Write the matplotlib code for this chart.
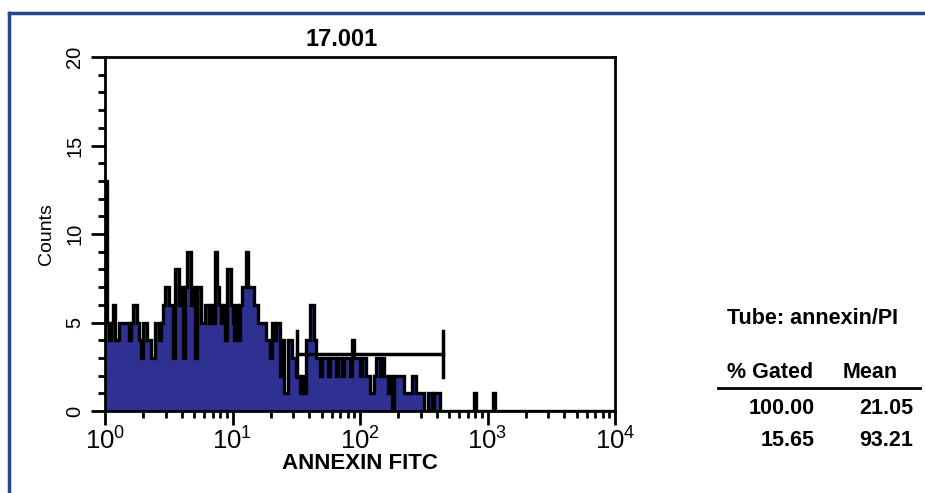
import matplotlib
matplotlib.use('Agg')
import matplotlib.pyplot as plt
import numpy as np
from matplotlib.ticker import FixedLocator, FuncFormatter

plt.rcParams['font.family'] = ['Liberation Sans', 'DejaVu Sans']
plt.rcParams['mathtext.fontset'] = 'custom'
plt.rcParams['mathtext.rm'] = 'Liberation Sans'
plt.rcParams['mathtext.it'] = 'Liberation Sans'
plt.rcParams['mathtext.bf'] = 'Liberation Sans:bold'

# 256 log channels over 4 decades, counts
counts = [
    13, 5, 4, 5, 6, 4, 4, 5, 5, 5, 5, 5, 4, 5, 6, 6, 5, 4, 3, 5,
    5, 4, 4, 3, 3, 5, 5, 4, 5, 6, 7, 7, 6, 6, 3, 8, 8, 6, 7, 3,
    7, 9, 9, 6, 7, 3, 7, 7, 5, 5, 6, 6, 5, 6, 5, 9, 7, 6, 5, 6,
    4, 8, 8, 6, 5, 4, 6, 4, 6, 7, 7, 9, 7, 7, 7, 6, 6, 5, 5, 5,
    5, 4, 4, 3, 5, 4, 5, 5, 2, 4, 1, 1, 4, 4, 3, 3, 2, 2, 1, 2,
    1, 4, 4, 6, 6, 4, 3, 3, 2, 3, 3, 3, 2, 3, 3, 3, 2, 3, 3, 2,
    3, 3, 3, 2, 4, 3, 3, 3, 2, 3, 3, 2, 2, 1, 1, 2, 3, 3, 2, 3,
    2, 2, 1, 2, 0, 2, 2, 2, 2, 2, 1, 1, 1, 1, 2, 2, 1, 1, 1, 1,
    0, 0, 1, 1, 0, 1, 1, 1, 0, 0, 0, 0, 0, 0, 0, 0, 0, 0, 0, 0,
    0, 0, 0, 0, 0, 1, 0, 0, 0, 0, 0, 0, 0, 0, 0, 1, 0, 0, 0, 0,
]
counts = counts + [0] * (256 - len(counts))
edges = 10 ** (4 * np.arange(257) / 256)

# marker gate
gate_lo = 32
gate_hi = 450
gate_y = 3.2

title = '17.001'
tube = 'Tube: annexin/PI'
table_head = ['% Gated', 'Mean']
table_rows = [['100.00', '21.05'], ['15.65', '93.21']]

fig = plt.figure(figsize=(9.25, 4.93), dpi=100)
ax = fig.add_axes([105 / 925, 1 - 411 / 493, (615 - 105) / 925, (411 - 57) / 493])

ax.stairs(counts, edges, fill=True, color='#2e3192', lw=0)
ax.stairs(counts, edges, color='black', lw=2.4, baseline=None)

ax.plot([gate_lo, gate_hi], [gate_y, gate_y], color='black', lw=2.5)
ax.plot([gate_hi, gate_hi], [gate_y - 1.3, gate_y + 1.3], color='black', lw=2.5)
ax.plot([gate_lo, gate_lo], [gate_y - 1.3, gate_y + 1.3], color='black', lw=2.5)

ax.set_xscale('log')
ax.set_xlim(1, 1e4)
ax.set_ylim(0, 20)
for s in ax.spines.values():
    s.set_linewidth(2)

ax.xaxis.set_major_locator(FixedLocator([1, 10, 100, 1000, 10000]))
ax.xaxis.set_minor_locator(FixedLocator([m * 10 ** d for d in range(4) for m in range(2, 10)]))
ax.xaxis.set_major_formatter(FuncFormatter(lambda v, p: '$10^{%d}$' % round(np.log10(v))))
ax.xaxis.set_minor_formatter(FuncFormatter(lambda v, p: ''))
ax.set_yticks([0, 5, 10, 15, 20])
ax.set_yticks(range(21), minor=True)

ax.tick_params(axis='x', which='major', direction='out', length=10, width=2, labelsize=18.5, pad=2)
ax.tick_params(axis='x', which='minor', direction='out', length=5, width=2)
ax.tick_params(axis='y', which='major', direction='out', length=10, width=2, labelsize=14.5, pad=5)
ax.tick_params(axis='y', which='minor', direction='out', length=5, width=2)
for lab in ax.get_yticklabels():
    lab.set_rotation(90)
    lab.set_va('center')

ax.set_xlabel('ANNEXIN FITC', fontsize=16, fontweight='bold', labelpad=-1)
ax.set_ylabel('Counts', fontsize=14, labelpad=7)
fig.text(342 / 925, 1 - 39 / 493, title, fontsize=17, fontweight='bold', ha='center', va='center')

# stats table
fig.text(727 / 925, 1 - 318 / 493, tube, fontsize=15.5, fontweight='bold', ha='left', va='center')
fig.text(727 / 925, 1 - 373 / 493, table_head[0], fontsize=15.5, fontweight='bold', ha='left', va='center')
fig.text(843 / 925, 1 - 373 / 493, table_head[1], fontsize=15.5, fontweight='bold', ha='left', va='center')
fig.add_artist(plt.Line2D([718 / 925, 920 / 925], [1 - 388 / 493, 1 - 388 / 493], color='black', lw=2))
row_y = [408, 440]
for row, yy in zip(table_rows, row_y):
    fig.text(815 / 925, 1 - yy / 493, row[0], fontsize=15.5, fontweight='bold', ha='right', va='center')
    fig.text(913 / 925, 1 - yy / 493, row[1], fontsize=15.5, fontweight='bold', ha='right', va='center')

# blue frame
fig.add_artist(plt.Line2D([9 / 925, 1.0], [1 - 13 / 493, 1 - 13 / 493], color='#2a4590', lw=2.5))
fig.add_artist(plt.Line2D([9 / 925, 9 / 925], [0, 1 - 13 / 493], color='#2a4590', lw=2.5))

fig.savefig('out.png', dpi=100)
